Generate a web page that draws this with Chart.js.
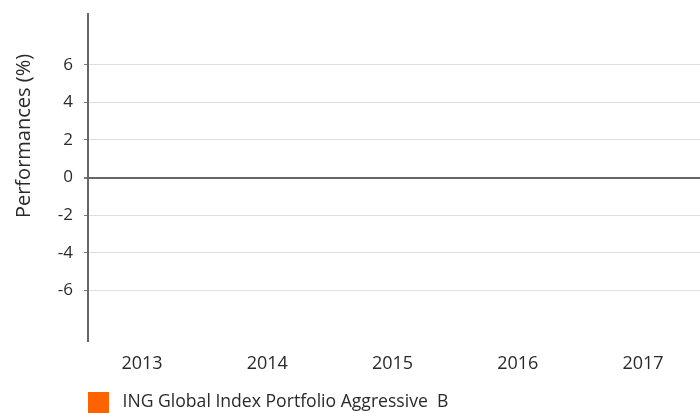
<!DOCTYPE html>
<html>
<head>
<meta charset="utf-8">
<script src="https://cdn.jsdelivr.net/npm/chart.js@4.4.1/dist/chart.umd.min.js"></script>
<style>
  html, body { margin: 0; padding: 0; background: #fff; }
  #wrap { width: 700px; height: 413px; position: relative; }
</style>
</head>
<body>
<div id="wrap"><canvas id="c" width="700" height="413"></canvas></div>
<script>
// ---- data ----
const years = ['2013', '2014', '2015', '2016', '2017'];
const performances = [null, null, null, null, null]; // no values shown in the reference
const yTicks = [-6, -4, -2, 0, 2, 4, 6];
const seriesLabel = 'ING Global Index Portfolio Aggressive  B';
const yTitle = 'Performances (%)';

const FONT = "'Open Sans', 'DejaVu Sans', sans-serif";
const TEXT = '#2a2a2a';

const extras = {
  id: 'extras',
  afterDraw(chart) {
    const ctx = chart.ctx;
    ctx.save();
    // y-axis title
    ctx.fillStyle = TEXT;
    ctx.font = '20px ' + FONT;
    ctx.textAlign = 'center';
    ctx.textBaseline = 'middle';
    ctx.translate(24, 136);
    ctx.rotate(-Math.PI / 2);
    ctx.fillText(yTitle, 0, 0);
    ctx.restore();

    // legend
    ctx.save();
    const ds = chart.data.datasets[0];
    ctx.fillStyle = ds.backgroundColor;
    ctx.fillRect(chart.chartArea.left, 392, 21, 21);
    ctx.fillStyle = TEXT;
    ctx.font = '17.6px ' + FONT;
    ctx.textAlign = 'left';
    ctx.textBaseline = 'middle';
    ctx.fillText(ds.label, 122.5, 402);
    ctx.restore();
  }
};

new Chart(document.getElementById('c'), {
  type: 'bar',
  data: {
    datasets: [{
      label: seriesLabel,
      data: years.map((y, i) => ({ x: i, y: performances[i] })),
      backgroundColor: '#FF6200',
      borderWidth: 0
    }]
  },
  options: {
    responsive: false,
    animation: false,
    layout: { padding: { top: 14, right: 0, left: 0, bottom: 0 } },
    plugins: {
      legend: { display: false },
      tooltip: { enabled: false }
    },
    scales: {
      x: {
        type: 'linear',
        offset: false,
        min: -0.431,
        max: 4.455,
        afterBuildTicks(scale) { scale.ticks = years.map((y, i) => ({ value: i })); },
        afterFit(scale) { scale.height = 72; scale.paddingLeft = 0; scale.paddingRight = 0; },
        grid: { display: false, drawTicks: false },
        border: { display: false },
        ticks: {
          autoSkip: false,
          maxRotation: 0,
          padding: 12,
          color: TEXT,
          font: { family: FONT, size: 18 },
          callback: (v) => years[v] !== undefined ? years[v] : ''
        }
      },
      y: {
        min: -8.7,
        max: 8.7,
        afterBuildTicks(scale) { scale.ticks = yTicks.map(v => ({ value: v })); },
        afterFit(scale) { scale.width = 88; scale.paddingTop = 0; scale.paddingBottom = 0; },
        grid: {
          color: (c) => (c.tick && c.tick.value === 0) ? '#666666' : '#dddddd',
          lineWidth: (c) => (c.tick && c.tick.value === 0) ? 2 : 1,
          tickColor: '#777777',
          tickLength: 4
        },
        border: { display: true, color: '#666666', width: 2 },
        ticks: {
          padding: 11,
          color: TEXT,
          font: { family: FONT, size: 17 },
          callback: (v) => String(v)
        }
      }
    }
  },
  plugins: [extras]
});
</script>
</body>
</html>
